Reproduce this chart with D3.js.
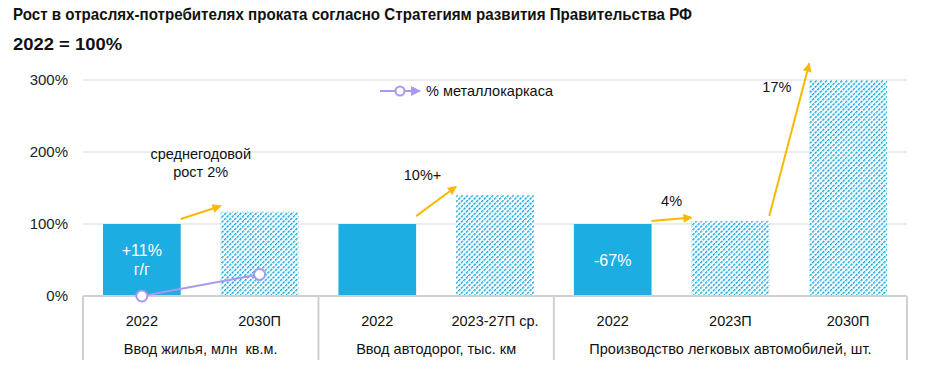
<!DOCTYPE html>
<html>
<head>
<meta charset="utf-8">
<script src="https://d3js.org/d3.v7.min.js"></script>
<style>
  body { margin: 0; background: #fff; }
  text { font-family: "Liberation Sans", Arial, sans-serif; white-space: pre; }
</style>
</head>
<body>
<div id="chart"></div>
<script>
// chart data
var categories = ["2022", "2030П", "2022", "2023-27П ср.", "2022", "2023П", "2030П"];
var values = [100, 117, 100, 140, 100, 104, 300];
var isForecast = [false, true, false, true, false, true, true];
var groupNames = ["Ввод жилья, млн  кв.м.", "Ввод автодорог, тыс. км", "Производство легковых автомобилей, шт."];
var groupSizes = [2, 2, 3];
var barLabels = [["+11%", "г/г"], [], [], [], ["-67%"], [], []];
var yTicks = [0, 100, 200, 300];
// % металлокаркаса (first group only)
var frameShare = [0, 30];
// growth arrows: from bar i to bar i+1, start / end level in %
var arrowFrom = [0, 2, 4, 5];
var arrowStart = [107, 111, 104, 111];
var arrowEnd = [125, 152, 109, 323];
var arrowText = [["среднегодовой", "рост 2%"], ["10%+"], ["4%"], ["17%"]];
var arrowTextPos = [0.5, 0.16, 0.5, 0.19];   // share of the gap between bars
var arrowTextLevel = [165, 161, 125, 283];

var W = 934, H = 369;
var margin = {top: 80, right: 27, bottom: 73, left: 83};
var width = W - margin.left - margin.right,
    height = H - margin.top - margin.bottom;

var blue = "#1cade2", yellow = "#f8b900", purple = "#a998ee", grid = "#d9d9d9";

var svg = d3.select("#chart").append("svg")
    .attr("width", W).attr("height", H);

var defs = svg.append("defs");
var pat = defs.append("pattern")
    .attr("id", "hatch").attr("patternUnits", "userSpaceOnUse")
    .attr("width", 3.6).attr("height", 3.6)
    .attr("patternTransform", "rotate(45)");
pat.append("rect").attr("width", 3.6).attr("height", 3.6).attr("fill", "#fff");
pat.append("line").attr("x1", 0).attr("y1", 0).attr("x2", 0).attr("y2", 3.6)
    .attr("stroke", "#12a6de").attr("stroke-width", 2.8).attr("stroke-dasharray", "2.7 0.9");

defs.append("marker").attr("id", "arrY")
    .attr("viewBox", "0 0 10 10").attr("refX", 9).attr("refY", 5)
    .attr("markerWidth", 5.5).attr("markerHeight", 4.5).attr("orient", "auto")
    .attr("markerUnits", "strokeWidth")
  .append("path").attr("d", "M0,0L10,5L0,10z").attr("fill", yellow);
defs.append("marker").attr("id", "arrP")
    .attr("viewBox", "0 0 10 10").attr("refX", 9).attr("refY", 5)
    .attr("markerWidth", 6).attr("markerHeight", 5).attr("orient", "auto")
    .attr("markerUnits", "strokeWidth")
  .append("path").attr("d", "M0,0L10,5L0,10z").attr("fill", purple);

// title
svg.append("text").attr("x", 13).attr("y", 20)
    .attr("textLength", 679).attr("lengthAdjust", "spacingAndGlyphs")
    .style("font-size", "16.5px").style("font-weight", "bold").attr("fill", "#111")
    .text("Рост в отраслях-потребителях проката согласно Стратегиям развития Правительства РФ");
svg.append("text").attr("x", 13).attr("y", 50)
    .attr("textLength", 109).attr("lengthAdjust", "spacingAndGlyphs")
    .style("font-size", "16.5px").style("font-weight", "bold").attr("fill", "#111")
    .text("2022 = 100%");

var g = svg.append("g").attr("transform", "translate(" + margin.left + "," + margin.top + ")");

var x = d3.scaleBand().domain(d3.range(categories.length)).range([0, width])
    .paddingInner(0.34).paddingOuter(0.17);
var y = d3.scaleLinear().domain([0, 300]).range([height, 0]);

// grid
g.selectAll(".grid").data(yTicks.filter(d => d > 0)).join("line")
    .attr("x1", 0).attr("x2", width)
    .attr("y1", d => y(d)).attr("y2", d => y(d))
    .attr("stroke", grid).attr("stroke-width", 1);
g.selectAll(".ylab").data(yTicks).join("text")
    .attr("x", -15).attr("y", d => y(d)).attr("dy", "0.35em")
    .attr("text-anchor", "end").style("font-size", "15px").attr("fill", "#222")
    .text(d => d + "%");

// bars
g.selectAll(".bar").data(values).join("rect")
    .attr("x", (d, i) => x(i)).attr("width", x.bandwidth())
    .attr("y", d => y(d)).attr("height", d => y(0) - y(d))
    .attr("fill", (d, i) => isForecast[i] ? "url(#hatch)" : blue);

// labels inside bars
barLabels.forEach(function(lines, i) {
  var cy = (y(values[i]) + y(0)) / 2;
  lines.forEach(function(t, k) {
    g.append("text")
      .attr("x", x(i) + x.bandwidth() / 2)
      .attr("y", cy + (k - (lines.length - 1) / 2) * 19)
      .attr("dy", "0.35em").attr("text-anchor", "middle")
      .style("font-size", "16px").attr("fill", "#fff").text(t);
  });
});

// category axis frame
var step = x.step();
var groupEdges = [0];
groupSizes.forEach(function(n, k) { groupEdges.push(groupEdges[k] + n); });
var frameBottom = height + 64;
g.append("line").attr("x1", 0).attr("x2", width).attr("y1", y(0)).attr("y2", y(0))
    .attr("stroke", "#d0d0d0").attr("stroke-width", 2);
groupEdges.forEach(function(e) {
  var xe = Math.min(Math.max(e * step, 0), width);
  g.append("line").attr("x1", xe).attr("x2", xe)
    .attr("y1", y(0)).attr("y2", frameBottom)
    .attr("stroke", "#d0d0d0").attr("stroke-width", 2);
});
g.selectAll(".xlab").data(categories).join("text")
    .attr("x", (d, i) => x(i) + x.bandwidth() / 2).attr("y", height + 30)
    .attr("text-anchor", "middle").style("font-size", "14.5px").attr("fill", "#111")
    .text(d => d);
g.selectAll(".glab").data(groupNames).join("text")
    .attr("x", (d, k) => (groupEdges[k] + groupEdges[k + 1]) / 2 * step)
    .attr("y", height + 58)
    .attr("text-anchor", "middle").style("font-size", "14.5px").attr("fill", "#111")
    .text(d => d);

// growth arrows
arrowFrom.forEach(function(i, k) {
  var x0 = x(i) + x.bandwidth(), x1 = x(i + 1);
  g.append("line")
    .attr("x1", x0).attr("y1", y(arrowStart[k]))
    .attr("x2", x1).attr("y2", y(arrowEnd[k]))
    .attr("stroke", yellow).attr("stroke-width", 2)
    .attr("marker-end", "url(#arrY)");
  var tx = x0 + (x1 - x0) * arrowTextPos[k];
  arrowText[k].forEach(function(t, j) {
    g.append("text").attr("x", tx)
      .attr("y", y(arrowTextLevel[k]) + (j - arrowText[k].length + 1) * 18)
      .attr("text-anchor", "middle").style("font-size", "14.5px").attr("fill", "#111")
      .text(t);
  });
});

// % metal frame line
var frameLine = d3.line().x((d, i) => x(i) + x.bandwidth() / 2).y(d => y(d));
g.append("path").datum(frameShare).attr("d", frameLine)
    .attr("fill", "none").attr("stroke", purple).attr("stroke-width", 2);
g.selectAll(".dot").data(frameShare).join("circle")
    .attr("cx", (d, i) => x(i) + x.bandwidth() / 2).attr("cy", d => y(d))
    .attr("r", 5.5).attr("fill", "#fff").attr("stroke", purple).attr("stroke-width", 2);

// legend
var lg = svg.append("g").attr("transform", "translate(380,91)");
lg.append("line").attr("x1", 0).attr("x2", 40).attr("y1", 0).attr("y2", 0)
    .attr("stroke", purple).attr("stroke-width", 2).attr("marker-end", "url(#arrP)");
lg.append("circle").attr("cx", 20).attr("cy", 0).attr("r", 4.5)
    .attr("fill", "#fff").attr("stroke", purple).attr("stroke-width", 2);
lg.append("text").attr("x", 46).attr("y", 0).attr("dy", "0.35em")
    .style("font-size", "14.5px").attr("fill", "#111").text("% металлокаркаса");
</script>
</body>
</html>
